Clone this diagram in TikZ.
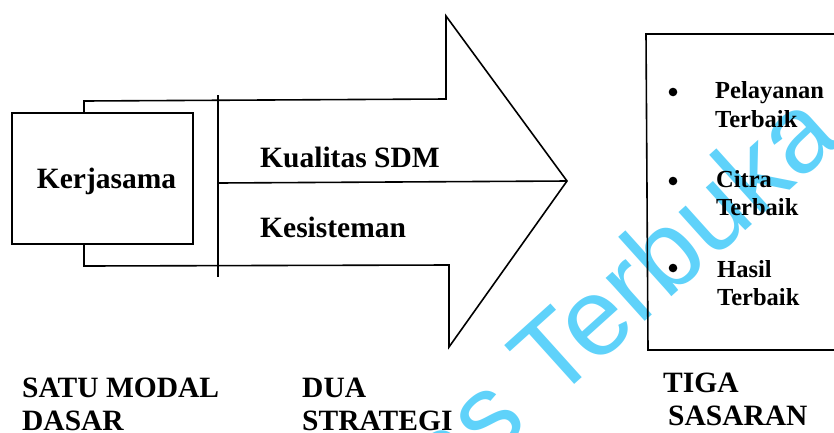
\documentclass[tikz,border=0pt]{standalone}
\usepackage{fontspec}
\setmainfont{Liberation Serif}
\newfontfamily\wmfont{Liberation Sans}
\definecolor{wmcyan}{RGB}{95,210,250}
\begin{document}
\begin{tikzpicture}[x=1pt,y=-1pt,
  line/.style={line width=1.6pt,line join=miter},
  big/.style={font=\fontsize{29.5}{32}\selectfont\bfseries,inner sep=0pt},
  mid/.style={font=\fontsize{24.5}{28}\selectfont\bfseries,inner sep=0pt},
  wm/.style={font=\fontsize{110}{110}\selectfont\wmfont,text=wmcyan,inner sep=0pt,rotate=42}]
\useasboundingbox (0,0) rectangle (834,432);
\clip (0,0) rectangle (834,432);
% watermark
\node[wm,anchor=base west] (wm2) at (553,404) {Terbuka};
\node[wm,anchor=base east] (wm1) at (530.3,424.5) {Universitas};
% arrow
\coordinate (tip) at (567,181);
\draw[line] (84,101) -- (446,99) -- (446,16) -- (tip) -- (449,347) -- (449,265) -- (84,266) -- cycle;
\draw[line] (218,95) -- (218,277);
\draw[line] (218,183) -- (tip);
% kerjasama box
\node[draw,line,fill=white,minimum width=181pt,minimum height=131pt,inner sep=0pt] (kbox) at (102.5,178.5) {};
\node[big,anchor=base] (kerja) at (106.5,188) {Kerjasama};
\node[big,anchor=base west] (kual) at (260,167) {Kualitas SDM};
\node[big,anchor=base west] (kesi) at (260,237) {Kesisteman};
% right box
\draw[line] (850,34) -- (646,34) -- (648,350) -- (850,350);
\foreach \y/\n in {92/b1,181/b2,268/b3}{\fill (673,\y) circle (4.3pt) coordinate (\n);}
\node[mid,anchor=base west] (p1) at (715,98) {Pelayanan};
\node[mid,anchor=base west] (p2) at (715,127) {Terbaik};
\node[mid,anchor=base west] (c1) at (716,187) {Citra};
\node[mid,anchor=base west] (c2) at (716,215) {Terbaik};
\node[mid,anchor=base west] (h1) at (717,277) {Hasil};
\node[mid,anchor=base west] (h2) at (717,305) {Terbaik};
% bottom labels
\node[big,anchor=base west] (s1) at (22,397) {SATU MODAL};
\node[big,anchor=base west] (s2) at (22,430) {DASAR};
\node[big,anchor=base west] (d1) at (302,397) {DUA};
\node[big,anchor=base west] (d2) at (302,430) {STRATEGI};
\node[big,anchor=base west] (t1) at (663,392) {TIGA};
\node[big,anchor=base west] (t2) at (668,425) {SASARAN};
\end{tikzpicture}
\end{document}
